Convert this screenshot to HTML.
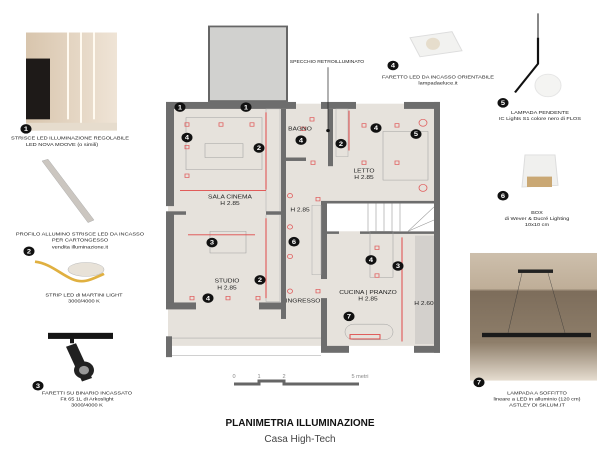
<!DOCTYPE html>
<html><head><meta charset="utf-8"><style>
html,body{margin:0;padding:0;background:#fff;overflow:hidden;}
svg{display:block;font-family:"Liberation Sans",sans-serif;}
.t{font-size:5.6px;fill:#222;text-anchor:middle;}
.rl{font-size:6.6px;fill:#222;text-anchor:middle;}
.m circle{fill:#111;} .m text{fill:#fff;font-size:7.5px;font-weight:bold;text-anchor:middle;}
.sq{fill:none;stroke:#e05a5a;stroke-width:.8;}
.thin{stroke:#999;stroke-width:.5;fill:none;}
</style></head><body>
<svg width="600" height="460" viewBox="0 0 600 460">
<defs>
<linearGradient id="photo7" x1="0" y1="0" x2="0" y2="1"><stop offset="0" stop-color="#cdbfac"/><stop offset=".28" stop-color="#bfae98"/><stop offset=".3" stop-color="#7d6d5b"/><stop offset=".7" stop-color="#8e7e6a"/><stop offset="1" stop-color="#e6ddd0"/></linearGradient>
<linearGradient id="photo1" x1="0" y1="0" x2="1" y2="0"><stop offset="0" stop-color="#d8c5ad"/><stop offset="1" stop-color="#efe4d6"/></linearGradient>
</defs>
<g transform="matrix(1,0,0,0.868,0,3)">
<!-- LEFT COLUMN -->
<rect x="26" y="34" width="91" height="113" fill="url(#photo1)"/>
<rect x="26" y="64" width="24" height="70" fill="#1e1a18"/>
<rect x="67" y="34" width="2" height="100" fill="#fffaf0"/>
<rect x="80" y="34" width="2" height="105" fill="#fffaf0"/>
<rect x="93" y="34" width="2" height="100" fill="#fffaf0"/>
<rect x="26" y="138" width="91" height="9" fill="#e6dccd"/>
<g class="m" transform="translate(26,145)"><circle r="5.5"/><text y="2.5">1</text></g>
<text class="t" x="70" y="157">STRISCE LED ILLUMINAZIONE REGOLABILE</text>
<text class="t" x="62" y="165">LED NOVA MOOVE (o simili)</text>

<path d="M42 182 L48 180 L94 250 L88 253 Z" fill="#cbc6c0" stroke="#aaa" stroke-width=".5"/>
<text class="t" x="80" y="268">PROFILO ALLUMINO STRISCE LED DA INCASSO</text>
<text class="t" x="80" y="275">PER CARTONGESSO</text>
<text class="t" x="80" y="283">vendita illuminazione.it</text>
<g class="m" transform="translate(29,286)"><circle r="5.5"/><text y="2.5">2</text></g>
<path d="M35 298 C50 300 60 312 72 318 S92 318 104 312" stroke="#e0b040" stroke-width="3" fill="none"/>
<ellipse cx="86" cy="307" rx="18" ry="8" fill="#e8e2d8" stroke="#bbb" stroke-width=".6"/>
<text class="t" x="84" y="338">STRIP LED di MARTINI LIGHT</text>
<text class="t" x="84" y="345">3000/4000 K</text>

<rect x="48" y="380" width="65" height="7" fill="#151515"/>
<rect x="70" y="386" width="4" height="6" fill="#151515"/>
<path d="M66 396 L76 392 L92 432 L82 436 Z" fill="#202020"/>
<circle cx="84" cy="423" r="10" fill="#222"/><circle cx="84" cy="423" r="5" fill="#999"/>
<g class="m" transform="translate(38,441)"><circle r="5.5"/><text y="2.5">3</text></g>
<text class="t" x="87" y="451">FARETTI SU BINARIO INCASSATO</text>
<text class="t" x="87" y="458">Fit 65 1L di Arkoslight</text>
<text class="t" x="87" y="465">3000/4000 K</text>

<!-- FLOOR PLAN -->
<rect x="209" y="27" width="78" height="86" fill="#d1d1cf" stroke="#666" stroke-width="2"/>
<rect x="168" y="116" width="270" height="279" fill="#e6e2dc"/>
<g fill="#6d6d6d">
<rect x="166" y="114" width="8" height="120"/><rect x="166" y="240" width="8" height="112"/>
<rect x="166" y="114" width="130" height="8"/><rect x="321" y="114" width="35" height="8"/><rect x="404" y="114" width="36" height="8"/>
<rect x="434" y="114" width="6" height="289"/>
<rect x="166" y="345" width="30" height="8"/><rect x="259" y="345" width="24" height="8"/>
<rect x="321" y="395" width="28" height="8"/><rect x="414" y="395" width="26" height="8"/>
<rect x="281" y="122" width="5" height="242"/>
<rect x="321" y="340" width="6" height="60"/>
<rect x="321" y="228" width="6" height="90"/>
<rect x="328" y="122" width="5" height="66"/>
<rect x="174" y="240" width="12" height="4"/><rect x="266" y="240" width="18" height="4"/>
<rect x="327" y="228" width="110" height="3"/><rect x="327" y="263" width="12" height="3"/><rect x="360" y="263" width="77" height="3"/>
<rect x="286" y="178" width="20" height="4"/>
</g>
<rect x="166" y="384" width="6" height="24" fill="#6d6d6d"/>
<line x1="172" y1="386" x2="321" y2="386" class="thin"/><line x1="172" y1="406" x2="321" y2="406" class="thin"/>
<rect x="360" y="231" width="74" height="32" fill="#fff"/>
<g stroke="#999" stroke-width=".6"><line x1="368" y1="231" x2="368" y2="263"/><line x1="376" y1="231" x2="376" y2="263"/><line x1="384" y1="231" x2="384" y2="263"/><line x1="392" y1="231" x2="392" y2="263"/><line x1="400" y1="231" x2="400" y2="263"/><line x1="408" y1="263" x2="434" y2="235"/><line x1="408" y1="263" x2="434" y2="250"/></g>
<rect x="327" y="231" width="33" height="32" fill="#fff"/>
<rect x="415" y="268" width="19" height="125" fill="#d3d0cc"/>
<rect x="186" y="132" width="76" height="60" class="thin"/><rect x="205" y="162" width="38" height="16" class="thin"/>
<rect x="383" y="148" width="45" height="56" class="thin"/>
<rect x="210" y="263" width="36" height="25" class="thin"/>
<rect x="370" y="263" width="23" height="53" class="thin"/>
<rect x="345" y="370" width="48" height="18" rx="9" class="thin"/>
<rect x="266" y="122" width="14" height="118" fill="none" stroke="#aaa" stroke-width=".5"/>
<rect x="266" y="244" width="14" height="100" fill="none" stroke="#aaa" stroke-width=".5"/>
<rect x="336" y="122" width="12" height="55" fill="none" stroke="#aaa" stroke-width=".5"/>
<rect x="312" y="233" width="9" height="80" fill="none" stroke="#aaa" stroke-width=".5"/>
<g stroke="#e04848" stroke-width="1" fill="none">
<line x1="266" y1="126" x2="266" y2="215"/><line x1="180" y1="216" x2="266" y2="216"/>
<line x1="266" y1="248" x2="266" y2="340"/>
<line x1="349" y1="124" x2="349" y2="170"/>
<line x1="402" y1="270" x2="402" y2="390"/>
<line x1="188" y1="267" x2="255" y2="267"/>
<rect x="350" y="382" width="30" height="5"/>
</g>
<g class="sq">
<rect x="185" y="138" width="4" height="4"/><rect x="219" y="138" width="4" height="4"/><rect x="250" y="138" width="4" height="4"/>
<rect x="185" y="164" width="4" height="4"/><rect x="185" y="197" width="4" height="4"/>
<rect x="310" y="132" width="4" height="4"/><rect x="311" y="182" width="4" height="4"/><rect x="301" y="143" width="4" height="4"/>
<rect x="362" y="139" width="4" height="4"/><rect x="395" y="139" width="4" height="4"/><rect x="362" y="182" width="4" height="4"/><rect x="395" y="182" width="4" height="4"/>
<rect x="316" y="224" width="4" height="4"/>
<rect x="190" y="338" width="4" height="4"/><rect x="226" y="338" width="4" height="4"/><rect x="256" y="338" width="4" height="4"/>
<rect x="316" y="330" width="4" height="4"/><rect x="375" y="312" width="4" height="4"/><rect x="375" y="280" width="4" height="4"/>
<circle cx="290" cy="222" r="2.5"/><circle cx="290" cy="258" r="2.5"/><circle cx="290" cy="292" r="2.5"/><circle cx="290" cy="332" r="2.5"/>
<circle cx="423" cy="138" r="4"/><circle cx="423" cy="213" r="4"/>
</g>
<text class="rl" x="230" y="225">SALA CINEMA</text><text class="rl" x="230" y="233">H 2.85</text>
<text class="rl" x="300" y="240">H 2.85</text>
<text class="rl" x="300" y="147">BAGNO</text>
<text class="rl" x="364" y="195">LETTO</text><text class="rl" x="364" y="203">H 2.85</text>
<text class="rl" x="227" y="322">STUDIO</text><text class="rl" x="227" y="330">H 2.85</text>
<text class="rl" x="303" y="345">INGRESSO</text>
<text class="rl" x="368" y="335">CUCINA | PRANZO</text><text class="rl" x="368" y="343">H 2.85</text>
<text class="rl" x="424" y="348">H 2.60</text>
<text class="t" x="327" y="69" style="font-size:5px">SPECCHIO RETROILLUMINATO</text>
<line x1="328" y1="74" x2="328" y2="147" stroke="#222" stroke-width=".7"/><circle cx="328" cy="147" r="1.8" fill="#111"/>
<g class="m">
<g transform="translate(180,120)"><circle r="5.5"/><text y="2.5">1</text></g>
<g transform="translate(246,120)"><circle r="5.5"/><text y="2.5">1</text></g>
<g transform="translate(187,155)"><circle r="5.5"/><text y="2.5">4</text></g>
<g transform="translate(259,167)"><circle r="5.5"/><text y="2.5">2</text></g>
<g transform="translate(301,158)"><circle r="5.5"/><text y="2.5">4</text></g>
<g transform="translate(341,162)"><circle r="5.5"/><text y="2.5">2</text></g>
<g transform="translate(376,144)"><circle r="5.5"/><text y="2.5">4</text></g>
<g transform="translate(416,151)"><circle r="5.5"/><text y="2.5">5</text></g>
<g transform="translate(212,276)"><circle r="5.5"/><text y="2.5">3</text></g>
<g transform="translate(294,275)"><circle r="5.5"/><text y="2.5">6</text></g>
<g transform="translate(260,319)"><circle r="5.5"/><text y="2.5">2</text></g>
<g transform="translate(208,340)"><circle r="5.5"/><text y="2.5">4</text></g>
<g transform="translate(371,296)"><circle r="5.5"/><text y="2.5">4</text></g>
<g transform="translate(398,303)"><circle r="5.5"/><text y="2.5">3</text></g>
<g transform="translate(349,361)"><circle r="5.5"/><text y="2.5">7</text></g>
</g>

<!-- RIGHT COLUMN -->
<path d="M410 40 L452 33 L462 55 L420 62 Z" fill="#f2f2f0" stroke="#ddd"/>
<circle cx="433" cy="47" r="7" fill="#e6ddcc"/>
<g class="m" transform="translate(393,72)"><circle r="5.5"/><text y="2.5">4</text></g>
<text class="t" x="438" y="87">FARETTO LED DA INCASSO ORIENTABILE</text>
<text class="t" x="438" y="94">lampadaeluce.it</text>
<line x1="538" y1="12" x2="538" y2="70" stroke="#111" stroke-width="1"/>
<path d="M538 40 V70 L515 103" stroke="#111" stroke-width="2.2" fill="none"/>
<circle cx="548" cy="95" r="13" fill="#f4f4f2" stroke="#e5e5e5"/>
<g class="m" transform="translate(503,115)"><circle r="5.5"/><text y="2.5">5</text></g>
<text class="t" x="540" y="128">LAMPADA PENDENTE</text>
<text class="t" x="540" y="135">IC Lights S1 colore nero  di  FLOS</text>
<path d="M525 175 L555 175 L558 210 L522 212 Z" fill="#f0f0ee" stroke="#ddd"/>
<rect x="527" y="200" width="25" height="12" fill="#caa874"/>
<g class="m" transform="translate(503,222)"><circle r="5.5"/><text y="2.5">6</text></g>
<text class="t" x="537" y="243">BOX</text>
<text class="t" x="537" y="250">di Wever &amp; Ducré Lighting</text>
<text class="t" x="537" y="257">10x10 cm</text>
<rect x="470" y="288" width="127" height="147" fill="url(#photo7)"/>
<rect x="518" y="307" width="35" height="4" fill="#222"/>
<line x1="522" y1="311" x2="508" y2="380" stroke="#333" stroke-width=".4"/><line x1="548" y1="311" x2="565" y2="380" stroke="#333" stroke-width=".4"/>
<rect x="482" y="380" width="109" height="5" fill="#1a1a1a"/>
<g class="m" transform="translate(479,437)"><circle r="5.5"/><text y="2.5">7</text></g>
<text class="t" x="537" y="451">LAMPADA A SOFFITTO</text>
<text class="t" x="537" y="458">lineare a LED in alluminio (120 cm)</text>
<text class="t" x="537" y="465">ASTLEY DI SKLUM.IT</text>
</g>

<!-- scale -->
<text class="t" x="234" y="378" style="fill:#888">0</text><text class="t" x="259" y="378" style="fill:#888">1</text><text class="t" x="284" y="378" style="fill:#888">2</text><text class="t" x="360" y="378" style="fill:#888">5 metri</text>
<path d="M234 384 H259 V381 H284 V384 H359" stroke="#666" stroke-width="3" fill="none"/>
<text x="300" y="426" style="font-size:10px;font-weight:bold;text-anchor:middle;fill:#111">PLANIMETRIA ILLUMINAZIONE</text>
<text x="300" y="442" style="font-size:10px;text-anchor:middle;fill:#444">Casa High-Tech</text>
</svg>
</body></html>
